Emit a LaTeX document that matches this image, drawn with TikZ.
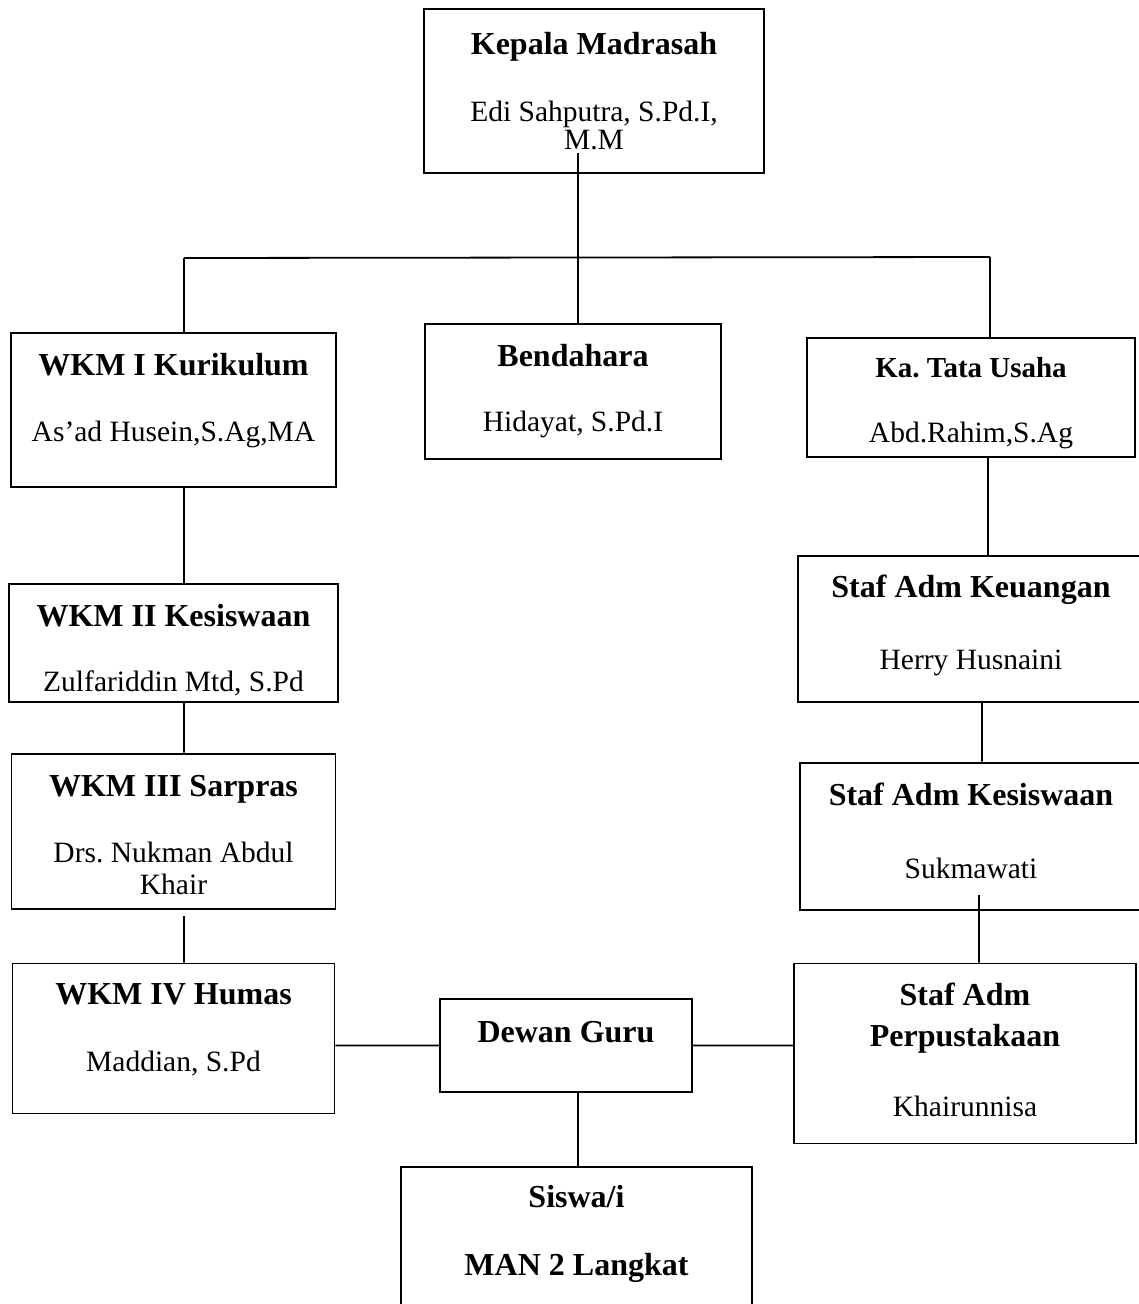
\documentclass[tikz,border=0pt]{standalone}
\usepackage{fontspec}
\usepackage{tikz}
\setmainfont{Liberation Serif}
\usetikzlibrary{positioning}
\frenchspacing

\newcommand{\namafont}{\fontsize{29.5}{32}\selectfont}
\newcommand{\jabatan}[2][32]{{\fontsize{#1}{32}\selectfont\bfseries #2}}

\begin{document}
\begin{tikzpicture}[x = 1pt, y = -1pt,
        unit/.style = {draw, line width = 1.8pt, align = center, inner sep = 0pt, font = \namafont},
        link/.style = {draw, line width = 1.8pt}]
        \useasboundingbox (0,0) rectangle (1138,1304);

        \node [unit, minimum width = 340pt, minimum height = 164pt] (kepala) at (594,91) {\jabatan{Kepala Madrasah}\\[35pt]Edi Sahputra, S.Pd.I,\\[-4pt]M.M};
        \node [unit, minimum width = 325pt, minimum height = 154pt, text depth = 25pt] (wkm1) at (173.5,410) {\jabatan{WKM I Kurikulum}\\[34pt]As’ad Husein,S.Ag,MA};
        \node [unit, minimum width = 296pt, minimum height = 135pt] (bend) at (573,391.5) {\jabatan{Bendahara}\\[33pt]Hidayat, S.Pd.I};
        \node [unit, minimum width = 328pt, minimum height = 119pt, text height = 97pt] (katu) at (971,397.5) {\jabatan[29]{Ka. Tata Usaha}\\[33pt]Abd.Rahim,S.Ag};
        \node [unit, minimum width = 329pt, minimum height = 118pt, text height = 101pt] (wkm2) [below = 95pt of wkm1] {\jabatan{WKM II Kesiswaan}\\[33pt]Zulfariddin Mtd, S.Pd};
        \node [unit, minimum width = 324pt, minimum height = 155pt, text height = 128pt] (wkm3) [below = 50pt of wkm2] {\jabatan{WKM III Sarpras}\\[34pt]Drs. Nukman Abdul\\Khair};
        \node [unit, minimum width = 322pt, minimum height = 150pt, text depth = 21pt] (wkm4) [below = 53pt of wkm3] {\jabatan{WKM IV Humas}\\[35pt]Maddian, S.Pd};
        \node [unit, minimum width = 346pt, minimum height = 146pt, text depth = 13pt] (keu) [below = 97pt of katu] {\jabatan{Staf Adm Keuangan}\\[40pt]Herry Husnaini};
        \node [unit, minimum width = 342pt, minimum height = 147pt, text depth = 11pt] (kes) [below = 59pt of keu] {\jabatan{Staf Adm Kesiswaan}\\[41pt]Sukmawati};
        \node [unit, minimum width = 342pt, minimum height = 180pt, text depth = 7pt] (perpus) [below = 52pt of kes, xshift = -6pt] {\jabatan{Staf Adm}\\[9pt]\jabatan{Perpustakaan}\\[38pt]Khairunnisa};
        \node [unit, minimum width = 252pt, minimum height = 93pt, text depth = 28pt] (dewan) at (566,1045.5) {\jabatan{Dewan Guru}};
        \node [unit, anchor = north, minimum width = 351pt, text height = 108.7pt, text depth = 120pt] (siswa) at (576.5,1166) {\jabatan{Siswa/i}\\[36pt]\jabatan{MAN 2 Langkat}};

        % junctions of the connectors
        \coordinate (barL) at (184,258);
        \coordinate (barR) at (990,257);
        \coordinate (trunk) at (578,257);
        \coordinate (kepalaout) at (578,153);
        \coordinate (wkm3out) at (184,916);
        \coordinate (rel1) at (988,0);
        \coordinate (rel2) at (982,0);
        \coordinate (kesout) at (979,895);

        \path [link]
            (kepalaout) -- (trunk |- bend.north)
            (barL) -- (barR)
            (barL) -- (barL |- wkm1.north)
            (barR) -- (barR |- katu.north)
            (barL |- wkm1.south) -- (barL |- wkm2.north)
            (barL |- wkm2.south) -- (barL |- wkm3.north)
            (wkm3out) -- (barL |- wkm4.north)
            (rel1 |- katu.south) -- (rel1 |- keu.north)
            (rel2 |- keu.south) -- (rel2 |- kes.north)
            (kesout) -- (kesout |- perpus.north)
            (dewan.west -| wkm4.east) -- (dewan.west)
            (dewan.east) -- (dewan.east -| perpus.west)
            (trunk |- dewan.south) -- (trunk |- siswa.north);
    \end{tikzpicture}
\end{document}
